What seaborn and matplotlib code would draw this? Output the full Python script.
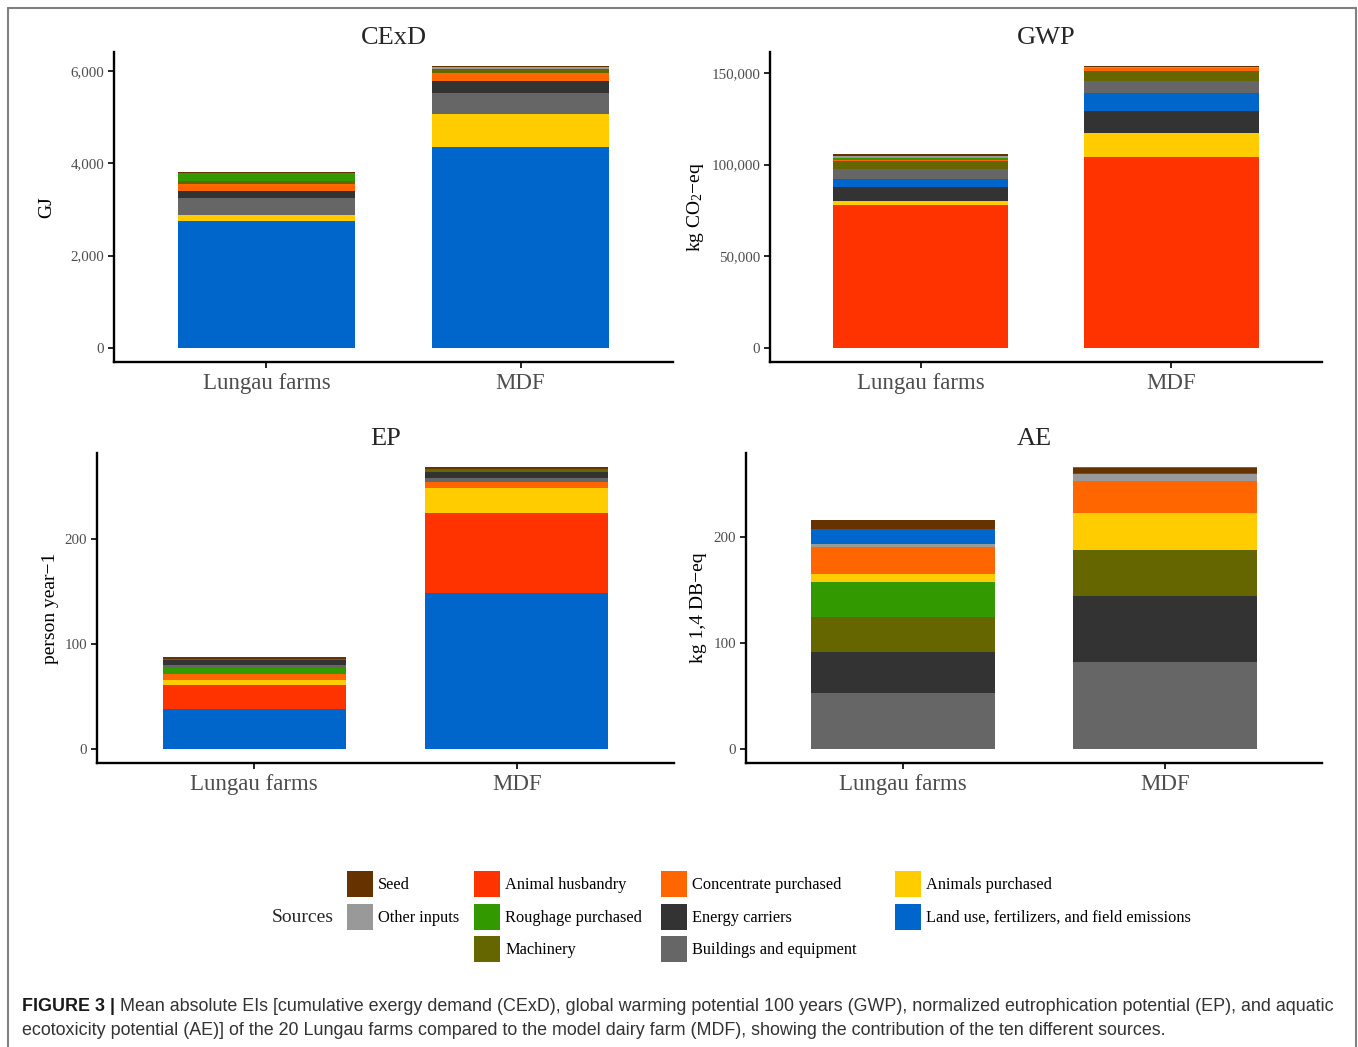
import numpy as np
import pandas as pd
import matplotlib
matplotlib.use("Agg")
import matplotlib.pyplot as plt
import seaborn as sns
from matplotlib.patches import Rectangle
from matplotlib.lines import Line2D
from matplotlib.ticker import FuncFormatter
from matplotlib import font_manager

# ---------------- data ----------------
farms = ["Lungau farms", "MDF"]
sources = ["Seed", "Other inputs", "Animal husbandry", "Roughage purchased", "Machinery",
           "Concentrate purchased", "Energy carriers", "Buildings and equipment",
           "Animals purchased", "Land use, fertilizers, and field emissions"]
source_colors = ["#663300", "#999999", "#FF3300", "#339900", "#666600",
                 "#FF6600", "#333333", "#666666", "#FFCC00", "#0066CC"]

# values in the order of `sources`
cexd_lungau = [10, 15, 5, 158, 65, 151, 166, 360, 137, 2744]
cexd_mdf = [25, 35, 5, 0, 94, 166, 259, 447, 720, 4358]
gwp_lungau = [800, 1000, 78080, 1090, 4350, 720, 7430, 5430, 2355, 4350]
gwp_mdf = [470, 800, 104170, 0, 5430, 1450, 12140, 6700, 13225, 9420]
ep_lungau = [1.6, 0.3, 23.3, 5.4, 1.6, 5.7, 4.1, 3.2, 4.7, 37.9]
ep_mdf = [1.9, 0.3, 76.7, 0, 2.8, 5.7, 5.7, 3.5, 23.3, 148]
ae_lungau = [8.2, 3.5, 0.5, 33.0, 33.6, 25.4, 38.9, 52.4, 6.9, 13.8]
ae_mdf = [5.0, 6.3, 0.5, 0, 43.6, 31.1, 62.2, 82, 34.5, 0.9]

# stacking order, bottom to top
cexd_order = ["Land use, fertilizers, and field emissions", "Animals purchased", "Buildings and equipment",
              "Energy carriers", "Concentrate purchased", "Machinery", "Roughage purchased",
              "Other inputs", "Seed", "Animal husbandry"]
gwp_order = ["Animal husbandry", "Animals purchased", "Energy carriers",
             "Land use, fertilizers, and field emissions", "Buildings and equipment", "Machinery",
             "Concentrate purchased", "Roughage purchased", "Other inputs", "Seed"]
ep_order = ["Land use, fertilizers, and field emissions", "Animal husbandry", "Animals purchased",
            "Concentrate purchased", "Roughage purchased", "Buildings and equipment", "Energy carriers",
            "Machinery", "Seed", "Other inputs"]
ae_order = ["Buildings and equipment", "Energy carriers", "Machinery", "Roughage purchased",
            "Animals purchased", "Concentrate purchased", "Other inputs",
            "Land use, fertilizers, and field emissions", "Seed", "Animal husbandry"]

cexd_ticks = [0, 2000, 4000, 6000]
gwp_ticks = [0, 50000, 100000, 150000]
ep_ticks = [0, 100, 200]
ae_ticks = [0, 100, 200]

titles = ["CExD", "GWP", "EP", "AE"]
ylabels = ["GJ", r"kg CO$_2$−eq", "person year−1", "kg 1,4 DB−eq"]

legend_title = "Sources"
caption_bold = "FIGURE 3 |"
caption_line1 = ("Mean absolute EIs [cumulative exergy demand (CExD), global warming potential 100 years (GWP), "
                 "normalized eutrophication potential (EP), and aquatic")
caption_line2 = ("ecotoxicity potential (AE)] of the 20 Lungau farms compared to the model dairy farm (MDF), "
                 "showing the contribution of the ten different sources.")

# ---------------- style ----------------
sns.set_style("white")
plt.rcParams["font.family"] = ["Liberation Serif", "DejaVu Serif"]
plt.rcParams["mathtext.fontset"] = "custom"
plt.rcParams["mathtext.rm"] = "Liberation Serif"
plt.rcParams["mathtext.it"] = "Liberation Serif:italic"

W, H = 1358, 1047
fig = plt.figure(figsize=(W / 100, H / 100), dpi=100)
palette = dict(zip(sources, source_colors))


def rect(l, r, top, bottom):
    return [l / W, 1 - bottom / H, (r - l) / W, (bottom - top) / H]


panel_rects = [rect(114, 673, 52, 362), rect(770, 1322, 52, 362),
               rect(97, 674, 453, 763), rect(746, 1322, 453, 763)]
panel_data = [(cexd_lungau, cexd_mdf, cexd_order, cexd_ticks),
              (gwp_lungau, gwp_mdf, gwp_order, gwp_ticks),
              (ep_lungau, ep_mdf, ep_order, ep_ticks),
              (ae_lungau, ae_mdf, ae_order, ae_ticks)]
ylabel_pads = [11, 4, 4, 5]

for i, (r, (lung, mdf, order, ticks)) in enumerate(zip(panel_rects, panel_data)):
    ax = fig.add_axes(r)
    df = pd.DataFrame({
        "farm": [farms[0]] * len(sources) + [farms[1]] * len(sources),
        "source": sources + sources,
        "value": list(lung) + list(mdf),
    })
    sns.histplot(data=df, x="farm", weights="value", hue="source",
                 hue_order=order[::-1], palette=palette, multiple="stack",
                 discrete=True, shrink=0.7, alpha=1, linewidth=0,
                 legend=False, ax=ax)
    totals = df.groupby("farm")["value"].sum()
    m = totals.max()
    ax.set_ylim(-0.05 * m, 1.05 * m)
    ax.set_xlim(-0.6, 1.6)
    ax.set_xticks([0, 1])
    ax.set_xticklabels(farms, fontsize=16.5, color="#4D4D4D")
    ax.set_yticks(ticks)
    ax.yaxis.set_major_formatter(FuncFormatter(lambda v, p: f"{int(round(v)):,}"))
    ax.tick_params(axis="y", labelsize=10.8, labelcolor="#4D4D4D", length=4, width=1.2,
                   color="black", left=True, direction="out", pad=3)
    ax.tick_params(axis="x", length=4, width=1.2, color="black", bottom=True,
                   direction="out", pad=4)
    ax.set_xlabel("")
    ax.set_ylabel(ylabels[i], fontsize=14, color="black", labelpad=ylabel_pads[i])
    ax.set_title(titles[i], fontsize=19, pad=6)
    for s in ["top", "right"]:
        ax.spines[s].set_visible(False)
    for s in ["left", "bottom"]:
        ax.spines[s].set_color("black")
        ax.spines[s].set_linewidth(1.7)
    ax.grid(False)

# ---------------- legend (manual, ggplot-like) ----------------
legend_cols_x = [347, 474, 661, 895]
legend_rows_y = [871, 904, 936]
legend_slots = {"Seed": (0, 0), "Other inputs": (0, 1),
                "Animal husbandry": (1, 0), "Roughage purchased": (1, 1), "Machinery": (1, 2),
                "Concentrate purchased": (2, 0), "Energy carriers": (2, 1),
                "Buildings and equipment": (2, 2),
                "Animals purchased": (3, 0), "Land use, fertilizers, and field emissions": (3, 1)}
key = 26
for src in sources:
    c, rr = legend_slots[src]
    x0, y0 = legend_cols_x[c], legend_rows_y[rr]
    fig.add_artist(Rectangle((x0 / W, 1 - (y0 + key) / H), key / W, key / H,
                             transform=fig.transFigure, facecolor=palette[src],
                             edgecolor="none"))
    fig.text((x0 + key + 5) / W, 1 - (y0 + key / 2 + 1) / H, src, fontsize=11.8,
             va="center", ha="left", color="black")
fig.text(272 / W, 1 - 918 / H, legend_title, fontsize=14, va="center", ha="left")

# ---------------- caption ----------------
names = {f.name for f in font_manager.fontManager.ttflist}
cap_font = "Liberation Sans Narrow" if "Liberation Sans Narrow" in names else "Liberation Sans"
renderer = fig.canvas.get_renderer()


def caption_width(size):
    t1 = fig.text(0, 0, caption_bold + " ", family=cap_font, fontweight="bold", size=size)
    t2 = fig.text(0, 0, caption_line1, family=cap_font, size=size)
    w = t1.get_window_extent(renderer).width + t2.get_window_extent(renderer).width
    t1.remove(); t2.remove()
    return w


target = 1333 - 22
cs = 12.0 * target / caption_width(12.0)
cs = min(cs, 13.5)
tb = fig.text(22 / W, 1 - 1011 / H, caption_bold + " ", family=cap_font, fontweight="bold",
              size=cs, va="baseline", color="#1a1a1a")
wb = tb.get_window_extent(renderer).width
fig.text((22 + wb) / W, 1 - 1011 / H, caption_line1, family=cap_font, size=cs,
         va="baseline", color="#333333")
fig.text(22 / W, 1 - 1035 / H, caption_line2, family=cap_font, size=cs,
         va="baseline", color="#333333")

# ---------------- frame ----------------
fc = "#808080"
for xs, ys in [([8, 8], [8, H]), ([8, 1356], [8, 8]), ([1356, 1356], [8, H])]:
    fig.add_artist(Line2D([x / W for x in xs], [1 - y / H for y in ys],
                          transform=fig.transFigure, color=fc, lw=1.5))

fig.savefig("out.png", dpi=100)
